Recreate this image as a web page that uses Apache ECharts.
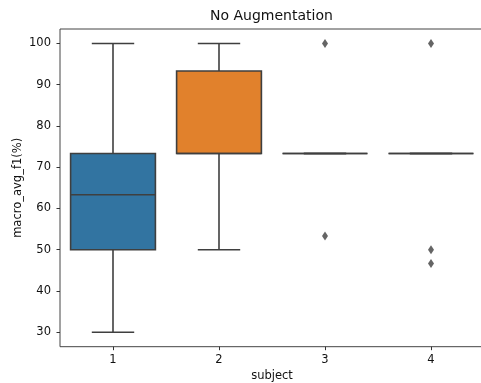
<!DOCTYPE html>
<html>
<head>
<meta charset="utf-8">
<script src="https://cdn.jsdelivr.net/npm/echarts@6/dist/echarts.min.js"></script>
<style>
  html, body { margin: 0; padding: 0; background: #fff; overflow: hidden; }
  #chart { width: 484px; height: 383px; }
</style>
</head>
<body>
<div id="chart"></div>
<script>
// Box statistics per subject
const subjects = ['1', '2', '3', '4'];
const whiskerLow = [30, 50, 73.33, 73.33];
const q1 = [50, 73.33, 73.33, 73.33];
const median = [63.33, 73.33, 73.33, 73.33];
const q3 = [73.33, 93.33, 73.33, 73.33];
const whiskerHigh = [100, 100, 73.33, 73.33];
const boxColors = ['#3274a1', '#e1812c', '#3a923a', '#c03d3e'];

// Points beyond the whiskers: [subject, value]
const outliers = [['3', 100], ['3', 53.33], ['4', 100], ['4', 50], ['4', 46.67]];

const yTicks = [30, 40, 50, 60, 70, 80, 90, 100];

const FONT = 'DejaVu Sans';
const LINE = '#3f3f3f';

const boxData = subjects.map((s, i) => [i, whiskerLow[i], q1[i], median[i], q3[i], whiskerHigh[i]]);

function renderBox(params, api) {
  const idx = api.value(0);
  const band = api.size([1, 0])[0];
  const boxW = band * 0.8;
  const capW = boxW / 2;
  const pLow = api.coord([idx, api.value(1)]);
  const pQ1 = api.coord([idx, api.value(2)]);
  const pMed = api.coord([idx, api.value(3)]);
  const pQ3 = api.coord([idx, api.value(4)]);
  const pHigh = api.coord([idx, api.value(5)]);
  const cx = pQ1[0];
  const lineStyle = { stroke: LINE, lineWidth: 1.6, fill: null };
  const children = [
    { type: 'line', shape: { x1: cx, y1: pQ1[1], x2: cx, y2: pLow[1] }, style: lineStyle },
    { type: 'line', shape: { x1: cx, y1: pQ3[1], x2: cx, y2: pHigh[1] }, style: lineStyle },
    { type: 'line', shape: { x1: cx - capW / 2, y1: pLow[1], x2: cx + capW / 2, y2: pLow[1] }, style: lineStyle },
    { type: 'line', shape: { x1: cx - capW / 2, y1: pHigh[1], x2: cx + capW / 2, y2: pHigh[1] }, style: lineStyle },
    {
      type: 'rect',
      shape: { x: cx - boxW / 2, y: pQ3[1], width: boxW, height: pQ1[1] - pQ3[1] },
      style: { fill: boxColors[idx], stroke: LINE, lineWidth: 1.6 }
    },
    { type: 'line', shape: { x1: cx - boxW / 2, y1: pMed[1], x2: cx + boxW / 2, y2: pMed[1] }, style: lineStyle }
  ];
  return { type: 'group', children };
}

const chart = echarts.init(document.getElementById('chart'), null, { renderer: 'canvas' });
chart.setOption({
  animation: false,
  backgroundColor: '#fff',
  title: {
    text: 'No Augmentation',
    left: 210,
    top: 9,
    padding: 0,
    textStyle: { fontFamily: FONT, fontSize: 14, fontWeight: 'normal', color: '#111' }
  },
  grid: {
    left: 60, right: 0, top: 29, bottom: 36.3,
    outerBoundsMode: 'none',
    containLabel: false,
    show: true, borderColor: '#444', borderWidth: 1, backgroundColor: 'transparent'
  },
  xAxis: {
    type: 'category',
    data: subjects,
    boundaryGap: true,
    name: 'subject',
    nameLocation: 'middle',
    nameGap: 23,
    nameMoveOverlap: false,
    nameTextStyle: { fontFamily: FONT, fontSize: 11.5, color: '#111' },
    axisLine: { show: false },
    axisTick: { show: true, alignWithLabel: true, length: 3.5, inside: false, lineStyle: { color: '#333', width: 1 } },
    axisLabel: { fontFamily: FONT, fontSize: 11.5, color: '#111', margin: 7 },
    splitLine: { show: false }
  },
  yAxis: {
    type: 'value',
    min: 26.5,
    max: 103.5,
    name: 'macro_avg_f1(%)',
    nameLocation: 'middle',
    nameRotate: 90,
    nameGap: 36,
    nameMoveOverlap: false,
    nameTextStyle: { fontFamily: FONT, fontSize: 11.5, color: '#111' },
    axisLine: { show: false },
    axisTick: { show: true, customValues: yTicks, length: 3.5, lineStyle: { color: '#333', width: 1 } },
    axisLabel: { customValues: yTicks, fontFamily: FONT, fontSize: 11.5, color: '#111', margin: 9 },
    splitLine: { show: false }
  },
  series: [
    {
      type: 'custom',
      renderItem: renderBox,
      data: boxData,
      encode: { x: 0, y: [1, 2, 3, 4, 5] },
      clip: false,
      z: 2
    },
    {
      type: 'scatter',
      data: outliers,
      symbol: 'diamond',
      symbolSize: [6, 9],
      itemStyle: { color: LINE },
      z: 3
    }
  ]
});
</script>
</body>
</html>
